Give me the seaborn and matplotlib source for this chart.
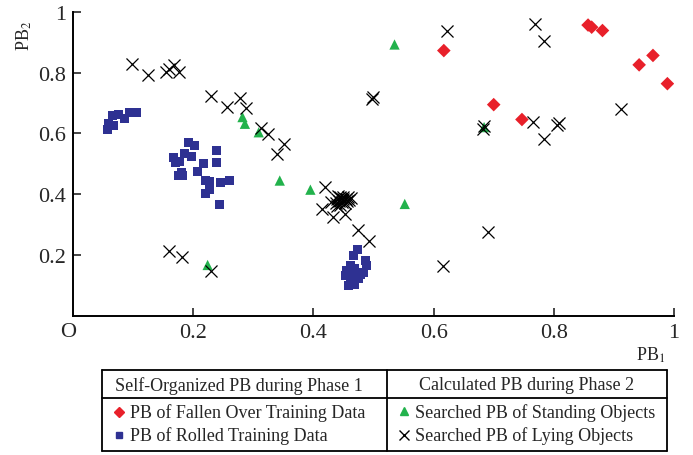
import matplotlib
matplotlib.use("Agg")
import matplotlib.pyplot as plt
from matplotlib.lines import Line2D
import seaborn as sns
import pandas as pd

# ---------------- data ----------------
fallen_x = [0.617, 0.857, 0.863, 0.881, 0.965, 0.942, 0.989, 0.700, 0.747]
fallen_y = [0.873, 0.957, 0.950, 0.939, 0.857, 0.826, 0.764, 0.695, 0.646]

rolled_x = [0.057, 0.059, 0.067, 0.066, 0.075, 0.085, 0.094, 0.105,
            0.192, 0.202, 0.167, 0.185, 0.198, 0.170, 0.178, 0.181, 0.175, 0.183,
            0.217, 0.207, 0.239, 0.239, 0.220, 0.227, 0.227, 0.220, 0.246, 0.260, 0.243,
            0.473, 0.467, 0.486, 0.489, 0.483, 0.461, 0.455, 0.453, 0.469, 0.464,
            0.461, 0.469, 0.458, 0.475, 0.478]
rolled_y = [0.613, 0.632, 0.626, 0.659, 0.662, 0.648, 0.668, 0.670,
            0.571, 0.560, 0.522, 0.533, 0.525, 0.505, 0.507, 0.472, 0.461, 0.461,
            0.502, 0.476, 0.544, 0.505, 0.445, 0.442, 0.415, 0.404, 0.440, 0.445, 0.367,
            0.217, 0.198, 0.181, 0.165, 0.143, 0.165, 0.148, 0.132, 0.154, 0.137,
            0.110, 0.104, 0.099, 0.121, 0.137]

standing_x = [0.535, 0.684, 0.552, 0.282, 0.286, 0.309, 0.344, 0.395, 0.224]
standing_y = [0.893, 0.621, 0.368, 0.654, 0.632, 0.604, 0.445, 0.415, 0.167]

lying_x = [0.098, 0.124, 0.155, 0.159, 0.168, 0.176, 0.230, 0.257, 0.278, 0.288,
           0.313, 0.324, 0.351, 0.339, 0.500, 0.497,
           0.623, 0.768, 0.783, 0.684, 0.683, 0.765, 0.783, 0.808, 0.805, 0.911,
           0.691, 0.615, 0.160, 0.181, 0.230,
           0.420, 0.414, 0.433, 0.453, 0.475, 0.493, 0.430, 0.439,
           0.437, 0.440, 0.443, 0.445, 0.447, 0.449, 0.450, 0.452, 0.454, 0.456,
           0.458, 0.460, 0.463, 0.445, 0.441]
lying_y = [0.829, 0.791, 0.804, 0.811, 0.824, 0.804, 0.725, 0.687, 0.716, 0.683,
           0.617, 0.599, 0.566, 0.533, 0.720, 0.714,
           0.939, 0.961, 0.903, 0.626, 0.615, 0.639, 0.582, 0.635, 0.628, 0.679,
           0.275, 0.165, 0.214, 0.192, 0.148,
           0.423, 0.352, 0.324, 0.335, 0.283, 0.247, 0.374, 0.362,
           0.372, 0.385, 0.378, 0.390, 0.375, 0.383, 0.392, 0.370, 0.385, 0.378,
           0.390, 0.380, 0.386, 0.365, 0.395]

x_ticks = [0.2, 0.4, 0.6, 0.8, 1.0]
x_ticklabels = ["0.2", "0.4", "0.6", "0.8", "1"]
y_ticks = [0.2, 0.4, 0.6, 0.8, 1.0]
y_ticklabels = ["0.2", "0.4", "0.6", "0.8", "1"]

header_left = "Self-Organized PB during Phase 1"
header_right = "Calculated PB during Phase 2"
label_fallen = "PB of Fallen Over Training Data"
label_rolled = "PB of Rolled Training Data"
label_standing = "Searched PB of Standing Objects"
label_lying = "Searched PB of Lying Objects"

RED = "#E8202A"
BLUE = "#2E3192"
GREEN = "#22B24C"

# ---------------- figure ----------------
sns.set_theme(style="white")
plt.rcParams["font.family"] = ["Liberation Serif", "DejaVu Serif"]
plt.rcParams["mathtext.fontset"] = "stix"

W, H = 693, 456
fig = plt.figure(figsize=(W / 100, H / 100), dpi=100)

def fx(px):
    return px / W

def fy(py):
    return 1 - py / H

ax = fig.add_axes([fx(73), fy(316.7), fx(674) - fx(73), fy(13) - fy(316.7)])

df_f = pd.DataFrame({"x": fallen_x, "y": fallen_y})
df_r = pd.DataFrame({"x": rolled_x, "y": rolled_y})
df_s = pd.DataFrame({"x": standing_x, "y": standing_y})
df_l = pd.DataFrame({"x": lying_x, "y": lying_y})

sns.scatterplot(data=df_r, x="x", y="y", marker="s", s=42, color=BLUE,
                edgecolor="none", linewidth=0, ax=ax, legend=False, zorder=3)
sns.scatterplot(data=df_f, x="x", y="y", marker="D", s=48, color=RED,
                edgecolor="none", linewidth=0, ax=ax, legend=False, zorder=3)
sns.scatterplot(data=df_s, x="x", y="y", marker="^", s=55, color=GREEN,
                edgecolor="none", linewidth=0, ax=ax, legend=False, zorder=3)
sns.scatterplot(data=df_l, x="x", y="y", marker="x", s=75, color="black",
                linewidth=0.9, ax=ax, legend=False, zorder=4)

ax.set_xlim(0, 1)
ax.set_ylim(0, 1)
ax.set_xlabel("")
ax.set_ylabel("")
ax.set_xticks(x_ticks)
ax.set_xticklabels(x_ticklabels)
ax.set_yticks(y_ticks)
ax.set_yticklabels(y_ticklabels)
ax.tick_params(direction="in", length=6, width=1.2, labelsize=16,
               bottom=True, left=True, pad=5)
for side in ["top", "right"]:
    ax.spines[side].set_visible(False)
for side in ["left", "bottom"]:
    ax.spines[side].set_color("black")
    ax.spines[side].set_linewidth(1.4)

# origin label and axis labels
fig.text(fx(68), fy(333), "O", ha="center", va="center", fontsize=16)
fig.text(fx(24), fy(36), r"PB$_2$", ha="center", va="center", rotation=90, fontsize=13)
fig.text(fx(651), fy(355), r"PB$_1$", ha="center", va="center", fontsize=13)

# ---------------- legend table ----------------
lw = 1.3
L, R, T, B = 102, 667, 371, 452
MID, ROW = 387, 399
for (x0, y0, x1, y1) in [(L, T, R, T), (L, B, R, B), (L, T, L, B), (R, T, R, B),
                         (MID, T, MID, B), (L, ROW, R, ROW)]:
    fig.add_artist(Line2D([fx(x0), fx(x1)], [fy(y0), fy(y1)], color="black",
                          linewidth=lw, transform=fig.transFigure))

fs = 13
fig.text(fx((L + MID) / 2 - 6), fy(386), header_left, ha="center", va="center", fontsize=fs)
fig.text(fx((MID + R) / 2), fy(386), header_right, ha="center", va="center", fontsize=fs)

fig.add_artist(Line2D([fx(119)], [fy(413)], marker="D", markersize=5, color=RED,
                      linestyle="none", transform=fig.transFigure))
fig.text(fx(130), fy(413), label_fallen, ha="left", va="center", fontsize=fs)
fig.add_artist(Line2D([fx(119)], [fy(436)], marker="s", markersize=4.5, color=BLUE,
                      linestyle="none", transform=fig.transFigure))
fig.text(fx(130), fy(436), label_rolled, ha="left", va="center", fontsize=fs)

fig.add_artist(Line2D([fx(404)], [fy(412)], marker="^", markersize=6, color=GREEN,
                      linestyle="none", transform=fig.transFigure))
fig.text(fx(415), fy(413), label_standing, ha="left", va="center", fontsize=fs)
fig.add_artist(Line2D([fx(404)], [fy(436)], marker="x", markersize=7, color="black",
                      markeredgewidth=1.0, linestyle="none", transform=fig.transFigure))
fig.text(fx(415), fy(436), label_lying, ha="left", va="center", fontsize=fs)

fig.savefig("out.png", dpi=100)
